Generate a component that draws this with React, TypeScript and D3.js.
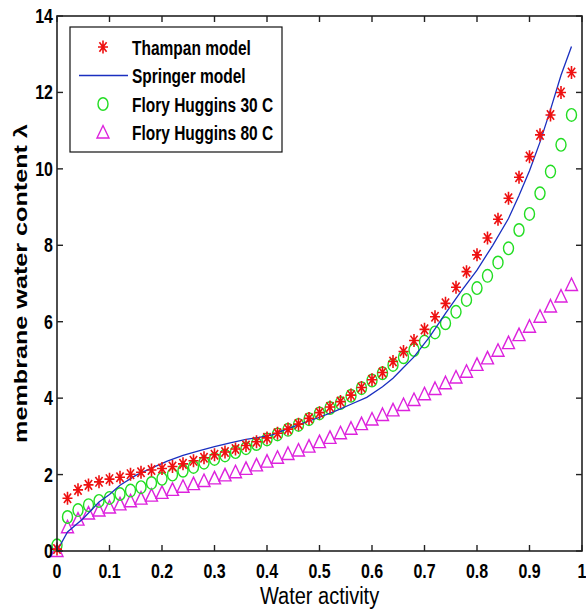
import React from "react";
import * as d3 from "d3";

// water activity of every marker (0 .. 0.98, step 0.02)
const activity = [
  0, 0.02, 0.04, 0.06, 0.08, 0.1, 0.12, 0.14, 0.16, 0.18, 0.2, 0.22, 0.24,
  0.26, 0.28, 0.3, 0.32, 0.34, 0.36, 0.38, 0.4, 0.42, 0.44, 0.46, 0.48, 0.5,
  0.52, 0.54, 0.56, 0.58, 0.6, 0.62, 0.64, 0.66, 0.68, 0.7, 0.72, 0.74, 0.76,
  0.78, 0.8, 0.82, 0.84, 0.86, 0.88, 0.9, 0.92, 0.94, 0.96, 0.98,
];

const thampan = [
  0.05, 1.38, 1.6, 1.73, 1.81, 1.88, 1.93, 2.01, 2.06, 2.12, 2.16, 2.21, 2.28,
  2.36, 2.44, 2.52, 2.59, 2.67, 2.76, 2.86, 2.96, 3.08, 3.19, 3.32, 3.47, 3.62,
  3.77, 3.91, 4.08, 4.28, 4.48, 4.67, 4.96, 5.22, 5.51, 5.8, 6.13, 6.48, 6.9,
  7.31, 7.75, 8.19, 8.68, 9.23, 9.78, 10.32, 10.89, 11.41, 12.0, 12.52,
];

const flory30 = [
  0.15, 0.89, 1.07, 1.2, 1.31, 1.39, 1.49, 1.58, 1.67, 1.78, 1.89, 2.0, 2.1,
  2.2, 2.31, 2.41, 2.5, 2.59, 2.69, 2.8, 2.92, 3.05, 3.17, 3.3, 3.45, 3.6,
  3.74, 3.87, 4.06, 4.26, 4.46, 4.65, 4.87, 5.07, 5.26, 5.48, 5.72, 5.96, 6.26,
  6.57, 6.88, 7.2, 7.55, 7.92, 8.4, 8.82, 9.36, 9.93, 10.63, 11.41,
];

const flory80 = [
  0.0, 0.62, 0.82, 0.98, 1.06, 1.14, 1.22, 1.3, 1.37, 1.45, 1.52, 1.6, 1.68,
  1.75, 1.83, 1.9, 1.98, 2.06, 2.15, 2.24, 2.34, 2.44, 2.54, 2.63, 2.73, 2.85,
  2.96, 3.08, 3.2, 3.32, 3.44, 3.56, 3.68, 3.82, 3.95, 4.1, 4.24, 4.39, 4.54,
  4.69, 4.87, 5.04, 5.24, 5.44, 5.65, 5.87, 6.13, 6.4, 6.66, 6.96,
];

// Springer model curve
const springerA = [
  0, 0.02, 0.05, 0.08, 0.1, 0.12, 0.15, 0.18, 0.21, 0.24, 0.27, 0.3, 0.33,
  0.36, 0.38, 0.41, 0.44, 0.47, 0.5, 0.53, 0.56, 0.59, 0.62, 0.64, 0.66, 0.68,
  0.71, 0.74, 0.77, 0.8, 0.83, 0.86, 0.88, 0.9, 0.92, 0.94, 0.96, 0.98,
];
const springerL = [
  0, 0.5, 0.85, 1.28, 1.48, 1.72, 1.98, 2.17, 2.35, 2.5, 2.62, 2.73, 2.83,
  2.92, 2.96, 3.04, 3.2, 3.35, 3.5, 3.66, 3.84, 4.02, 4.3, 4.52, 4.8, 5.08,
  5.61, 6.22, 6.8, 7.35, 8.0, 8.7, 9.3, 9.95, 10.7, 11.55, 12.45, 13.2,
];

const xTicks = [0, 0.1, 0.2, 0.3, 0.4, 0.5, 0.6, 0.7, 0.8, 0.9, 1];
const yTicks = [0, 2, 4, 6, 8, 10, 12, 14];
const xTickLabels = ["0", "0.1", "0.2", "0.3", "0.4", "0.5", "0.6", "0.7", "0.8", "0.9", "1"];

const legendItems = [
  "Thampan model",
  "Springer model",
  "Flory Huggins 30 C",
  "Flory Huggins 80 C",
];

const W = 586;
const H = 611;
const left = 57;
const right = 582;
const top = 16;
const bottom = 551;

const RED = "#ee1111";
const BLUE = "#1a2fc0";
const GREEN = "#22dd22";
const MAGENTA = "#dd22dd";
const FONT = "'Liberation Sans', Arial, sans-serif";

const starPath = "M-5,0L5,0M0,-6.5L0,6.5M-3.6,-4.8L3.6,4.8M-3.6,4.8L3.6,-4.8";
const triPath = "M0,-7L6,5.5L-6,5.5Z";

export default function App() {
  const x = d3.scaleLinear().domain([0, 1]).range([left, right]);
  const y = d3.scaleLinear().domain([0, 14]).range([bottom, top]);

  const line = d3
    .line<number>()
    .x((_, i) => x(springerA[i]))
    .y((d) => y(d));

  const tickLen = 6;

  return (
    <svg
      width={W}
      height={H}
      style={{ position: "absolute", left: 0, top: 0, background: "#fff" }}
      fontFamily={FONT}
    >
      <rect x={0} y={0} width={W} height={H} fill="#fff" />

      {/* data */}
      <g>
        {flory80.map((v, i) => (
          <path
            key={"t" + i}
            d={triPath}
            transform={`translate(${x(activity[i])},${y(v)})`}
            fill="none"
            stroke={MAGENTA}
            strokeWidth={1.4}
          />
        ))}
        {flory30.map((v, i) => (
          <ellipse
            key={"c" + i}
            cx={x(activity[i])}
            cy={y(v)}
            rx={5}
            ry={6.3}
            fill="none"
            stroke={GREEN}
            strokeWidth={1.4}
          />
        ))}
        <path d={line(springerL) || ""} fill="none" stroke={BLUE} strokeWidth={1.3} />
        {thampan.map((v, i) => (
          <path
            key={"s" + i}
            d={starPath}
            transform={`translate(${x(activity[i])},${y(v)})`}
            fill="none"
            stroke={RED}
            strokeWidth={1.6}
          />
        ))}
      </g>

      {/* frame */}
      <rect
        x={left}
        y={top}
        width={right - left}
        height={bottom - top}
        fill="none"
        stroke="#222"
        strokeWidth={1.6}
      />
      {xTicks.map((t) => (
        <g key={"xt" + t}>
          <line x1={x(t)} x2={x(t)} y1={bottom} y2={bottom - tickLen} stroke="#222" strokeWidth={1.4} />
          <line x1={x(t)} x2={x(t)} y1={top} y2={top + tickLen} stroke="#222" strokeWidth={1.4} />
        </g>
      ))}
      {yTicks.map((t) => (
        <g key={"yt" + t}>
          <line x1={left} x2={left + tickLen} y1={y(t)} y2={y(t)} stroke="#222" strokeWidth={1.4} />
          <line x1={right} x2={right - tickLen} y1={y(t)} y2={y(t)} stroke="#222" strokeWidth={1.4} />
        </g>
      ))}

      {/* tick labels */}
      {xTicks.map((t, i) => (
        <text
          key={"xl" + t}
          transform={`translate(${x(t)},${bottom + 27}) scale(1,1.3)`}
          textAnchor="middle"
          fontSize={16}
          fontWeight="bold"
          fill="#000"
        >
          {xTickLabels[i]}
        </text>
      ))}
      {yTicks.map((t) => (
        <text
          key={"yl" + t}
          transform={`translate(${left - 4},${y(t) + 7}) scale(1,1.3)`}
          textAnchor="end"
          fontSize={16}
          fontWeight="bold"
          fill="#000"
        >
          {t}
        </text>
      ))}

      {/* axis titles */}
      <text
        transform={`translate(${(left + right) / 2},${H - 7}) scale(1,1.15)`}
        textAnchor="middle"
        fontSize={20}
        fill="#000"
      >
        Water activity
      </text>
      <text
        transform={`translate(27,${(top + bottom) / 2}) rotate(-90) scale(1.4,1)`}
        textAnchor="middle"
        fontSize={18}
        fontWeight="bold"
        fill="#000"
      >
        membrane water content λ
      </text>

      {/* legend */}
      <g>
        <rect x={70} y={27} width={212} height={125} fill="#fff" stroke="#111" strokeWidth={1.2} />
        {legendItems.map((name, i) => {
          const ly = 47 + i * 28.5;
          return (
            <g key={name}>
              {i === 0 && (
                <path d={starPath} transform={`translate(103,${ly})`} fill="none" stroke={RED} strokeWidth={1.6} />
              )}
              {i === 1 && <line x1={79} x2={128} y1={ly} y2={ly} stroke={BLUE} strokeWidth={1.3} />}
              {i === 2 && (
                <ellipse cx={103} cy={ly} rx={5} ry={6.3} fill="none" stroke={GREEN} strokeWidth={1.4} />
              )}
              {i === 3 && (
                <path d={triPath} transform={`translate(103,${ly})`} fill="none" stroke={MAGENTA} strokeWidth={1.4} />
              )}
              <text
                transform={`translate(132,${ly + 7.5}) scale(1,1.35)`}
                fontSize={15.5}
                fontWeight="bold"
                fill="#000"
              >
                {name}
              </text>
            </g>
          );
        })}
      </g>
    </svg>
  );
}
